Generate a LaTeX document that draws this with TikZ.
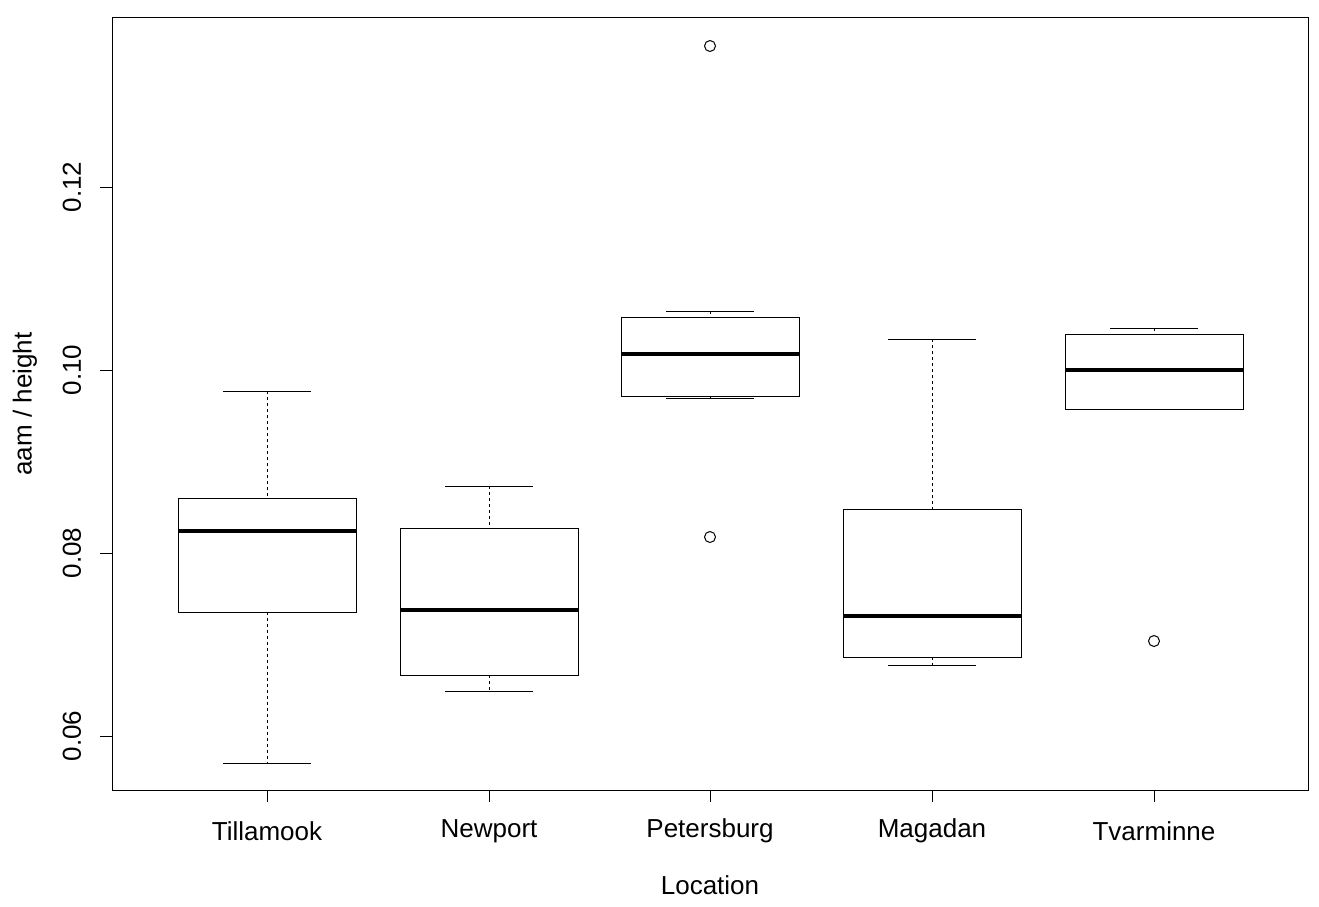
\documentclass[tikz,border=0pt]{standalone}
\usepackage{fontspec}
\setmainfont{Liberation Sans}
\tikzset{
  whisk/.style={dashed,line width=1pt},
  boxline/.style={line width=1pt},
  medline/.style={line width=3.5pt},
  lbl/.style={font=\fontsize{26}{30}\selectfont,inner sep=0pt}
}
\begin{document}
\begin{tikzpicture}[x=1pt,y=-1pt]
    \useasboundingbox (0,0) rectangle (1319,906);
    \draw[boxline] (112,17) rectangle (1308,790);

    % y axis
    \draw[boxline] (112,736) -- (112,187);
    \foreach \yy/\lab in {736/0.06,553/0.08,370/0.10,187/0.12}{
        \draw[boxline] (112,\yy) -- (100,\yy);
        \node[lbl,rotate=90] at (72,\yy) {\lab};
    }
    \node[lbl,rotate=90] (ylab) at (25,404) {aam / height};

    % boxes: x / top / q3 / median / q1 / bottom / name
    \foreach \xx/\wt/\qt/\md/\qb/\wb/\name in {
        267/391/498/531/612/763/Tillamook,
        489/486/528/610/675/691/Newport,
        710/311/317/354/396/398/Petersburg,
        932/339/509/616/657/665/Magadan,
        1154/328/334/370/409/409/Tvarminne}{
        \draw[whisk] (\xx,\wt) -- (\xx,\qt);
        \draw[whisk] (\xx,\qb) -- (\xx,\wb);
        \draw[boxline] (\xx-44,\wt) -- (\xx+44,\wt);
        \draw[boxline] (\xx-44,\wb) -- (\xx+44,\wb);
        \draw[boxline,fill=white] (\xx-89,\qt) rectangle (\xx+89,\qb);
        \draw[medline] (\xx-89,\md) -- (\xx+89,\md);
        \draw[boxline] (\xx,790) -- (\xx,802);
        \node[lbl] at (\xx,831) {\name};
    }

    % outliers
    \foreach \xx/\yy in {710/46,710/537,1154/641}
        \draw[boxline] (\xx,\yy) circle (5.5);

    \node[lbl] (xlab) at (710,885) {Location};
\end{tikzpicture}
\end{document}
